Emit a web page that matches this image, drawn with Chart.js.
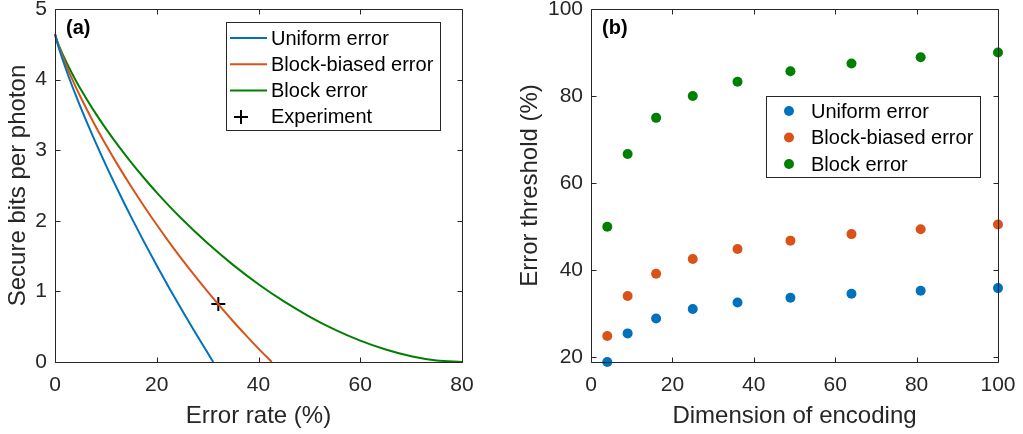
<!DOCTYPE html>
<html><head><meta charset="utf-8">
<script src="https://cdn.jsdelivr.net/npm/chart.js@4.4.1/dist/chart.umd.min.js"></script>
<style>
html,body{margin:0;padding:0;background:#fff;width:1023px;height:434px;overflow:hidden}
#a{position:absolute;left:0;top:0}
#b{position:absolute;left:500px;top:0}
</style></head><body>
<canvas id="a" width="500" height="434"></canvas>
<canvas id="b" width="523" height="434"></canvas>
<script>
// ---- Panel (a): secure bits per photon vs error rate (%) ----
const uniformRate = [0,0.5,1,2,3,4,5,7.5,10,12.5,15,17.5,20,22.5,25,27.5,30,31.1];
const uniformBits = [4.644,4.507,4.390,4.178,3.980,3.793,3.612,3.188,2.789,2.411,2.049,1.701,1.366,1.042,0.729,0.425,0.131,0];
const biasedRate = [0,0.5,1,2,3,4,5,7.5,10,12.5,15,17.5,20,22.5,25,27.5,30,32.5,35,37.5,40,42.6];
const biasedBits = [4.644,4.522,4.420,4.236,4.067,3.908,3.757,3.404,3.078,2.771,2.482,2.207,1.944,1.692,1.451,1.219,0.996,0.783,0.577,0.380,0.189,0];
const blockRate = [0,0.5,1,2,3,4,5,7.5,10,12.5,15,17.5,20,25,30,35,40,45,50,55,60,65,70,75,80];
const blockBits = [4.644,4.533,4.442,4.281,4.135,3.999,3.871,3.575,3.306,3.057,2.824,2.606,2.400,2.021,1.681,1.376,1.102,0.858,0.644,0.458,0.302,0.176,0.081,0.021,0];
const experimentRate = [32.1];
const experimentBits = [0.82];
const xTicksA = [0,20,40,60,80];
const yTicksA = [0,1,2,3,4,5];

// ---- Panel (b): error threshold (%) vs dimension ----
const dimensions = [4,9,16,25,36,49,64,81,100];
const uniformThreshold = [18.93,25.5,28.9,31.1,32.6,33.7,34.6,35.3,35.9];
const biasedThreshold = [24.9,34.1,39.2,42.6,44.9,46.8,48.3,49.4,50.5];
const blockThreshold = [50,66.7,75,80,83.3,85.7,87.5,88.9,90];
const xTicksB = [0,20,40,60,80,100];
const yTicksB = [20,40,60,80,100];

const labels = ['Uniform error','Block-biased error','Block error','Experiment'];
const BLUE='#0072BD', ORANGE='#D95319', GREEN='#008000', AX='#262626';
const FONT = '"Liberation Sans", Arial, Helvetica, sans-serif';

const pts = (xs, ys) => xs.map((x,i)=>({x, y:ys[i]}));

// box + inward ticks, MATLAB style
const boxPlugin = {
  id:'box',
  afterDatasetsDraw(chart){
    const {ctx, chartArea:ca, scales} = chart;
    ctx.save();
    ctx.strokeStyle = AX; ctx.lineWidth = 1;
    const L = Math.round(ca.left)+0.5, R = Math.round(ca.right)+0.5, T = Math.round(ca.top)+0.5, B = Math.round(ca.bottom)+0.5;
    ctx.beginPath();
    ctx.rect(L, T, R-L, B-T);
    const tl = 5;
    scales.x.ticks.forEach(t=>{
      const p = Math.round(scales.x.getPixelForValue(t.value))+0.5;
      ctx.moveTo(p,B); ctx.lineTo(p,B-tl);
      ctx.moveTo(p,T); ctx.lineTo(p,T+tl);
    });
    scales.y.ticks.forEach(t=>{
      const p = Math.round(scales.y.getPixelForValue(t.value))+0.5;
      ctx.moveTo(L,p); ctx.lineTo(L+tl,p);
      ctx.moveTo(R,p); ctx.lineTo(R-tl,p);
    });
    ctx.stroke();
    // panel label
    const lab = chart.options.plugins.box.label;
    ctx.fillStyle = '#000';
    ctx.font = 'bold 20px ' + FONT;
    ctx.textBaseline = 'middle'; ctx.textAlign = 'left';
    ctx.fillText(lab, ca.left + 11, ca.top + 19);
    ctx.restore();
  }
};

// in-axes legend drawn from dataset labels/styles
const legendPlugin = {
  id:'boxLegend',
  afterDraw(chart){
    const o = chart.options.plugins.boxLegend;
    const {ctx} = chart;
    ctx.save();
    ctx.fillStyle = '#fff';
    ctx.fillRect(o.x, o.y, o.w, o.h);
    ctx.strokeStyle = AX; ctx.lineWidth = 1;
    ctx.strokeRect(o.x+0.5, o.y+0.5, o.w, o.h);
    ctx.font = '20px ' + FONT;
    ctx.textBaseline = 'middle'; ctx.textAlign = 'left';
    chart.data.datasets.forEach((ds,i)=>{
      const y = o.y + o.first + i*o.step;
      const kind = ds.legendKind;
      if (kind === 'line'){
        ctx.strokeStyle = ds.borderColor; ctx.lineWidth = 2;
        ctx.beginPath(); ctx.moveTo(o.x+4, y); ctx.lineTo(o.x+41, y); ctx.stroke();
      } else if (kind === 'cross'){
        ctx.strokeStyle = '#000'; ctx.lineWidth = 2;
        ctx.beginPath(); ctx.moveTo(o.x+15, y-7); ctx.lineTo(o.x+15, y+7);
        ctx.moveTo(o.x+8, y); ctx.lineTo(o.x+22, y); ctx.stroke();
      } else {
        ctx.fillStyle = ds.backgroundColor;
        ctx.beginPath(); ctx.arc(o.x+o.markerX, y, 5, 0, Math.PI*2); ctx.fill();
      }
      ctx.fillStyle = '#000';
      ctx.fillText(ds.label, o.x + o.textX, y+1);
    });
    ctx.restore();
  }
};

function axis(min, max, tickList, title, fitSize, isX, titlePad, tickPad){
  return {
    type:'linear', min, max,
    afterBuildTicks: s => { s.ticks = tickList.map(v=>({value:v})); },
    afterFit: s => {
      if (isX) { s.height = fitSize; s.paddingLeft = 0; s.paddingRight = 0; }
      else { s.width = fitSize; s.paddingTop = 0; s.paddingBottom = 0; }
    },
    grid:{display:false, drawTicks:false},
    border:{display:false},
    ticks:{font:{family:FONT, size:21}, color:AX, padding:tickPad, maxRotation:0, autoSkip:false},
    title:{display:true, text:title, font:{family:FONT, size:24}, color:AX, padding:titlePad}
  };
}

Chart.defaults.font.family = FONT;

new Chart(document.getElementById('a'), {
  type:'scatter',
  data:{ datasets:[
    {label:labels[0], legendKind:'line', data:pts(uniformRate, uniformBits), showLine:true, borderColor:BLUE, borderWidth:2, pointRadius:0, cubicInterpolationMode:'monotone', clip:false},
    {label:labels[1], legendKind:'line', data:pts(biasedRate, biasedBits), showLine:true, borderColor:ORANGE, borderWidth:2, pointRadius:0, cubicInterpolationMode:'monotone', clip:false},
    {label:labels[2], legendKind:'line', data:pts(blockRate, blockBits), showLine:true, borderColor:GREEN, borderWidth:2, pointRadius:0, cubicInterpolationMode:'monotone', clip:false},
    {label:labels[3], legendKind:'cross', data:pts(experimentRate, experimentBits), showLine:false, pointStyle:'cross', pointRadius:7, borderColor:'#000', backgroundColor:'#000', pointBorderWidth:2, clip:false}
  ]},
  options:{
    responsive:false, animation:false, devicePixelRatio:1,
    layout:{padding:{left:0, right:38, top:9, bottom:0}},
    scales:{
      x: axis(0, 80, xTicksA, 'Error rate (%)', 72, true, {top:0, bottom:3}, 11),
      y: axis(0, 5, yTicksA, 'Secure bits per photon', 55, false, {top:4, bottom:0}, 8)
    },
    plugins:{ legend:{display:false}, tooltip:{enabled:false},
      box:{label:'(a)'},
      boxLegend:{x:226, y:22, w:214, h:108, first:16, step:26.3, textX:45, markerX:15}
    }
  },
  plugins:[boxPlugin, legendPlugin]
});

new Chart(document.getElementById('b'), {
  type:'scatter',
  data:{ datasets:[
    {label:labels[0], legendKind:'dot', data:pts(dimensions, uniformThreshold), backgroundColor:BLUE, borderColor:BLUE, pointRadius:5, pointBorderWidth:0, clip:false},
    {label:labels[1], legendKind:'dot', data:pts(dimensions, biasedThreshold), backgroundColor:ORANGE, borderColor:ORANGE, pointRadius:5, pointBorderWidth:0, clip:false},
    {label:labels[2], legendKind:'dot', data:pts(dimensions, blockThreshold), backgroundColor:GREEN, borderColor:GREEN, pointRadius:5, pointBorderWidth:0, clip:false}
  ]},
  options:{
    responsive:false, animation:false, devicePixelRatio:1,
    layout:{padding:{left:0, right:25, top:9, bottom:0}},
    scales:{
      x: axis(0, 100, xTicksB, 'Dimension of encoding', 72, true, {top:0, bottom:3}, 11),
      y: axis(18.93, 100, yTicksB, 'Error threshold (%)', 91, false, {top:16, bottom:0}, 8)
    },
    plugins:{ legend:{display:false}, tooltip:{enabled:false},
      box:{label:'(b)'},
      boxLegend:{x:266, y:96, w:214, h:81, first:15, step:26.5, textX:45, markerX:23}
    }
  },
  plugins:[boxPlugin, legendPlugin]
});
</script>
</body></html>
